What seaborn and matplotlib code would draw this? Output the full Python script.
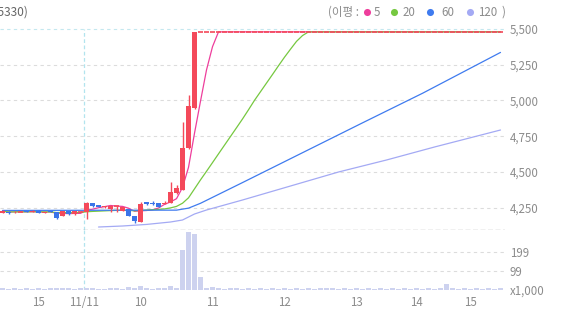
import numpy as np
import pandas as pd
import matplotlib
matplotlib.use("Agg")
import matplotlib.pyplot as plt
import seaborn as sns

# ---------------- data ----------------
opens = [4212, 4221, 4219, 4222, 4224, 4219, 4228, 4214, 4226, 4219,
         4191, 4226, 4203, 4221, 4217, 4282, 4268, 4252, 4238, 4259,
         4228, 4238, 4191, 4152, 4289, 4280, 4280, 4275, 4282, 4352,
         4373, 4667, 4947,
         5480, 5480, 5480, 5480, 5480, 5480, 5480, 5480, 5480, 5480,
         5480, 5480, 5480, 5480, 5480, 5480, 5480, 5480, 5480, 5480,
         5480, 5480, 5480, 5480, 5480, 5480, 5480, 5480, 5480, 5480,
         5480, 5480, 5480, 5480, 5480, 5480, 5480, 5480, 5480, 5480,
         5480, 5480, 5480, 5480, 5480, 5480, 5480, 5480, 5480, 5480, 5480]
highs = [4230, 4224, 4224, 4224, 4226, 4231, 4230, 4219, 4228, 4221,
         4226, 4228, 4226, 4224, 4289, 4284, 4270, 4263, 4266, 4263,
         4254, 4240, 4193, 4289, 4291, 4296, 4282, 4296, 4429, 4408,
         4849, 5038, 5480,
         5480, 5480, 5480, 5480, 5480, 5480, 5480, 5480, 5480, 5480,
         5480, 5480, 5480, 5480, 5480, 5480, 5480, 5480, 5480, 5480,
         5480, 5480, 5480, 5480, 5480, 5480, 5480, 5480, 5480, 5480,
         5480, 5480, 5480, 5480, 5480, 5480, 5480, 5480, 5480, 5480,
         5480, 5480, 5480, 5480, 5480, 5480, 5480, 5480, 5480, 5480, 5480]
lows = [4210, 4205, 4215, 4219, 4217, 4217, 4210, 4212, 4217, 4172,
        4189, 4201, 4201, 4219, 4168, 4256, 4252, 4250, 4221, 4221,
        4226, 4189, 4142, 4150, 4270, 4270, 4254, 4273, 4280, 4345,
        4370, 4660, 4940,
        5480, 5480, 5480, 5480, 5480, 5480, 5480, 5480, 5480, 5480,
        5480, 5480, 5480, 5480, 5480, 5480, 5480, 5480, 5480, 5480,
        5480, 5480, 5480, 5480, 5480, 5480, 5480, 5480, 5480, 5480,
        5480, 5480, 5480, 5480, 5480, 5480, 5480, 5480, 5480, 5480,
        5480, 5480, 5480, 5480, 5480, 5480, 5480, 5480, 5480, 5480, 5480]
closes = [4226, 4212, 4222, 4222, 4219, 4228, 4212, 4217, 4219, 4175,
          4224, 4203, 4224, 4222, 4282, 4263, 4254, 4261, 4263, 4261,
          4252, 4191, 4156, 4275, 4273, 4275, 4256, 4284, 4359, 4387,
          4667, 4961, 5480,
          5480, 5480, 5480, 5480, 5480, 5480, 5480, 5480, 5480, 5480,
          5480, 5480, 5480, 5480, 5480, 5480, 5480, 5480, 5480, 5480,
          5480, 5480, 5480, 5480, 5480, 5480, 5480, 5480, 5480, 5480,
          5480, 5480, 5480, 5480, 5480, 5480, 5480, 5480, 5480, 5480,
          5480, 5480, 5480, 5480, 5480, 5480, 5480, 5480, 5480, 5480, 5480]
volumes = [6, 5, 7, 5, 6, 5, 8, 5, 6, 9,
           7, 6, 5, 7, 9, 6, 5, 5, 7, 6,
           5, 15, 7, 18, 6, 5, 6, 8, 18, 8,
           208, 304, 292, 64, 7, 13, 6, 5, 6, 10,
           5, 6, 5, 6, 5, 6, 5, 6, 5, 6,
           5, 6, 5, 6, 10, 6, 5, 6, 5, 6,
           5, 6, 5, 6, 5, 6, 5, 6, 5, 6,
           5, 6, 5, 6, 30, 6, 5, 6, 5, 6,
           5, 6, 5, 6]

# longer averages (their history lies before the visible window): read values
ma60_idx = [0, 14, 29, 31, 33, 40, 50, 60, 70, 83]
ma60_val = [4230, 4231, 4232, 4246, 4280, 4425, 4634, 4843, 5050, 5336]
ma120_idx = [16, 20, 24, 28, 30, 32, 34, 40, 48, 56, 64, 72, 83]
ma120_val = [4114, 4121, 4132, 4149, 4163, 4205, 4233, 4303, 4401, 4499,
             4583, 4674, 4793]

ma_periods = [5, 20]
ma_colors = {5: "#ee3e9c", 20: "#76c840", 60: "#3f7bef", 120: "#a4aaf4"}

price_ticks = [4250, 4500, 4750, 5000, 5250, 5500]
price_labels = ["4,250", "4,500", "4,750", "5,000", "5,250", "5,500"]
vol_ticks = [0, 99, 199]
vol_labels = ["x1,000", "99", "199"]
x_tick_pos = [6, 13.5, 23, 35, 47, 59, 69, 78]
x_tick_labels = ["15", "11/11", "10", "11", "12", "13", "14", "15"]
day_break = 13.5

legend_names = ["5", "20", "60", "120"]
title_text = "(005330)"

# ---------------- style ----------------
sns.set_style("white")
plt.rcParams["font.family"] = ["Noto Sans CJK KR", "DejaVu Sans"]

RED = "#f4495a"
BLUE = "#3a74e8"
VOLC = "#cdd2ef"
TXT = "#8c8c8c"

W, H = 573, 315
fig = plt.figure(figsize=(W / 100, H / 100), dpi=100)
fig.patch.set_facecolor("white")


def fy(py):
    return 1 - py / H


ax = fig.add_axes([0, fy(230), 505 / W, (230 - 22) / H])
axv = fig.add_axes([0, fy(289.5), 505 / W, (289.5 - 230) / H])

n = len(closes)
x = np.arange(n)
df = pd.DataFrame({"x": x, "open": opens, "high": highs, "low": lows,
                   "close": closes, "volume": volumes})

xlim = (-0.42, 83.75)
ylo = 5500 - 7 * (230 - 29)
yhi = 5500 + 7 * (29 - 22)

# grid lines
for t in price_ticks:
    c = "#c4e8ef" if t == 5500 else "#dcdcdc"
    ax.axhline(t, color=c, lw=0.8, ls=(0, (3, 3)), zorder=0)
ax.vlines(day_break, ylo, 5500, color="#b2e4ee", lw=0.9, ls=(0, (3, 2)), zorder=0)
ax.axhline(ylo + 1, color="#8f8f8f", lw=0.9, ls=(0, (4, 2)), zorder=5)

# moving averages
for p in ma_periods:
    ma = df["close"].rolling(p, min_periods=1).mean()
    sns.lineplot(x=df["x"], y=ma, ax=ax, color=ma_colors[p], linewidth=0.9,
                 estimator=None, sort=False, legend=False, zorder=2)
sns.lineplot(x=ma60_idx, y=ma60_val, ax=ax, color=ma_colors[60], linewidth=0.9,
             estimator=None, sort=False, legend=False, zorder=2)
sns.lineplot(x=ma120_idx, y=ma120_val, ax=ax, color=ma_colors[120], linewidth=0.9,
             estimator=None, sort=False, legend=False, zorder=2)

# candles
up = df["close"] >= df["open"]
colors = np.where(up, RED, BLUE)
bw = 0.83
ax.vlines(df["x"], df["low"], df["high"], colors=colors, lw=1.0, zorder=3)
body_lo = np.minimum(df["open"], df["close"])
body_h = np.abs(df["close"] - df["open"])
ax.bar(df["x"], body_h, bottom=body_lo, width=bw, color=colors, linewidth=0, zorder=3)
flat = body_h < 3
ax.hlines(df["close"][flat], df["x"][flat] - bw / 2, df["x"][flat] + bw / 2,
          colors=colors[flat.values], lw=1.2, zorder=4)

ax.set_xlim(*xlim)
ax.set_ylim(ylo, yhi)
ax.yaxis.tick_right()
ax.set_yticks(price_ticks)
ax.set_yticklabels(price_labels)
ax.tick_params(axis="y", length=0, pad=3.6, labelsize=8.3, labelcolor=TXT)
ax.set_xticks([])
ax.set_xlabel("")
ax.set_ylabel("")
for s in ax.spines.values():
    s.set_visible(False)
ax.patch.set_alpha(0)

# volume
for t in vol_ticks[1:]:
    axv.axhline(t, color="#dcdcdc", lw=0.8, ls=(0, (3, 3)), zorder=0)
axv.axvline(day_break, color="#b2e4ee", lw=0.9, ls=(0, (3, 2)), zorder=0)
axv.bar(df["x"], df["volume"], width=bw, color=VOLC, linewidth=0, zorder=2)
axv.set_xlim(*xlim)
axv.set_ylim(0, (289.5 - 230) / 0.19)
axv.yaxis.tick_right()
axv.set_yticks(vol_ticks)
axv.set_yticklabels(vol_labels)
axv.set_xticks(x_tick_pos)
axv.set_xticklabels(x_tick_labels)
axv.tick_params(axis="y", length=0, pad=3.6, labelsize=8.3, labelcolor=TXT)
axv.tick_params(axis="x", length=0, pad=4.5, labelsize=8.3, labelcolor=TXT)
for s in axv.spines.values():
    s.set_visible(False)
axv.patch.set_alpha(0)

# header texts in pixel coordinates
axo = fig.add_axes([0, 0, 1, 1], zorder=10)
axo.set_xlim(0, W)
axo.set_ylim(H, 0)
axo.axis("off")
axo.text(28.5, 12, title_text, ha="right", va="center", fontsize=8.6, color="#666666")
axo.text(359, 12, "(이평 :", ha="right", va="center", fontsize=8.3, color=TXT)
dot_x = [367, 394, 430, 470]
lab_x = [374, 403, 441, 478]
for name, dx, lx, p in zip(legend_names, dot_x, lab_x, [5, 20, 60, 120]):
    axo.scatter([dx], [12], s=26, color=ma_colors[p], linewidths=0)
    axo.text(lx, 12, name, ha="left", va="center", fontsize=8.3, color=TXT)
axo.text(505, 12, ")", ha="right", va="center", fontsize=8.3, color=TXT)

fig.savefig("out.png", dpi=100, facecolor="white")
